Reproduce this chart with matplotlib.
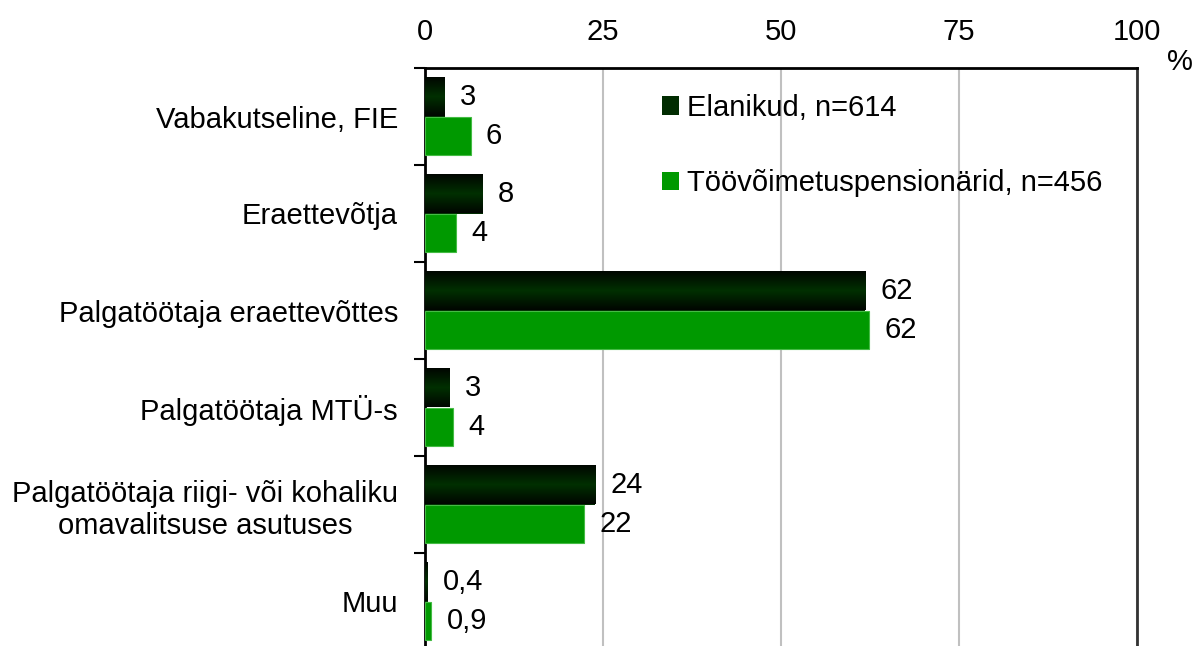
import matplotlib
matplotlib.use("Agg")
import matplotlib.pyplot as plt
import numpy as np
from matplotlib.colors import LinearSegmentedColormap
from matplotlib.patches import Patch

categories = ["Vabakutseline, FIE", "Eraettevõtja", "Palgatöötaja eraettevõttes",
              "Palgatöötaja MTÜ-s", "Palgatöötaja riigi- või kohaliku\nomavalitsuse asutuses", "Muu"]
elanikud = [2.8, 8.1, 61.8, 3.4, 23.9, 0.4]
pensionarid = [6.4, 4.4, 62.4, 3.9, 22.3, 0.9]
series_names = ["Elanikud, n=614", "Töövõimetuspensionärid, n=456"]
xticks = [0, 25, 50, 75, 100]

plt.rcParams['font.family'] = ['Liberation Sans', 'DejaVu Sans']
FS = 21

def fmt(v):
    if v >= 1:
        return f"{v:.0f}"
    return f"{v:.1f}".replace(".", ",")

fig = plt.figure(figsize=(11.92, 6.46), dpi=100)
ax = fig.add_axes([425/1192, -4/646, (1137-425)/1192, (650-68)/646])

n = len(categories)
centers = np.arange(n)
h = 0.4
dark_c = "#012c01"
green_c = "#009900"

cmap = LinearSegmentedColormap.from_list("dg", ["#000600", "#003000", "#000600"])
grad = np.linspace(0, 1, 64).reshape(-1, 1)

for i in range(n):
    ax.barh(centers[i] - h/2, elanikud[i], height=h, color=dark_c, zorder=3)
    ax.imshow(grad, extent=[0, elanikud[i], centers[i], centers[i] - h], aspect='auto',
              cmap=cmap, zorder=3.5, interpolation='bilinear')
    ax.barh(centers[i] + h/2, pensionarid[i], height=h, color=green_c,
            edgecolor="#44bb44", linewidth=0.8, zorder=3)
    ax.annotate(fmt(elanikud[i]), (elanikud[i], centers[i] - h/2), xytext=(11, 0),
                textcoords='offset points', va='center', ha='left', fontsize=FS)
    ax.annotate(fmt(pensionarid[i]), (pensionarid[i], centers[i] + h/2), xytext=(11, 0),
                textcoords='offset points', va='center', ha='left', fontsize=FS)

ax.set_xlim(0, 100)
ax.set_ylim(n - 0.5, -0.5)
ax.set_xticks(xticks)
ax.xaxis.tick_top()
ax.tick_params(axis='x', length=0, pad=16, labelsize=FS)
ax.set_yticks(centers)
ax.set_yticklabels(categories, fontsize=FS, multialignment='center')
ax.set_yticks(np.arange(n + 1) - 0.5, minor=True)
ax.tick_params(axis='y', which='major', length=0, pad=19.5)
ax.tick_params(axis='y', which='minor', length=8, width=1.5, color='black')

ax.grid(axis='x', color='#c0c0c0', linewidth=1.5, zorder=0)
ax.set_axisbelow(True)
for s in ['top', 'left']:
    ax.spines[s].set_linewidth(2)
    ax.spines[s].set_color('black')
ax.spines['right'].set_linewidth(2)
ax.spines['right'].set_color('#333333')
ax.spines['bottom'].set_visible(False)

fig.text(1180/1192, 1 - 62/646, "%", fontsize=FS, ha='center', va='center')

handles = [Patch(facecolor=dark_c, edgecolor='none'), Patch(facecolor=green_c, edgecolor='none')]
leg = ax.legend(handles, series_names, loc='upper left', bbox_to_anchor=(662/1192, 1 - 94/646),
                bbox_transform=fig.transFigure, frameon=False, fontsize=FS,
                handlelength=0.6, handleheight=0.6, handletextpad=0.25, labelspacing=1.62,
                borderaxespad=0, borderpad=0)

fig.savefig("out.png", dpi=100)
